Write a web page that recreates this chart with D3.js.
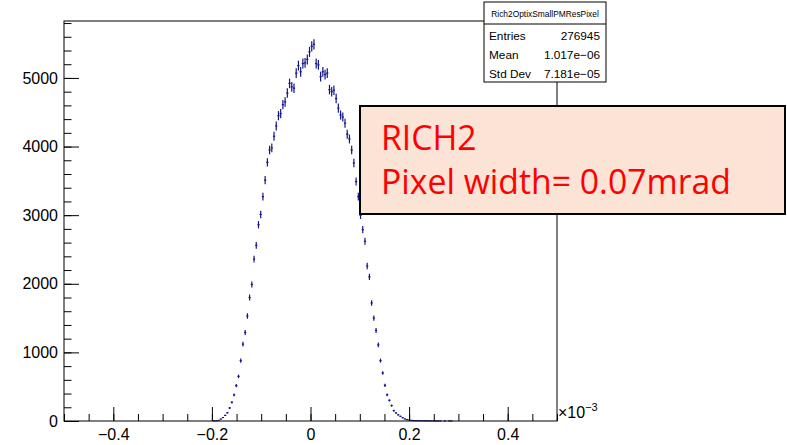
<!DOCTYPE html>
<html>
<head>
<meta charset="utf-8">
<script src="https://cdn.jsdelivr.net/npm/d3@7"></script>
<style>
  html, body { margin: 0; padding: 0; background: #fff; }
  svg { display: block; }
</style>
</head>
<body>
<svg id="chart" width="787" height="445"></svg>
<script>
// ---------------- data ----------------
const histTitle = "Rich2OptixSmallPMResPixel";
const statLabels = ["Entries", "Mean", "Std Dev"];
const statValues = ["276945", "1.017e\u221206", "7.181e\u221205"];
const annotationLines = ["RICH2", "Pixel width= 0.07mrad"];

// histogram binning (x in units of 1e-3)
const xRange = [-0.5, 0.5];
const yMax = 5830;
const binWidth = 0.0045;
const firstBinCenter = -0.2;
const counts = [
  0, 2, 3, 8, 28, 50, 82, 120, 190, 273,
  380, 515, 650, 880, 1120, 1290, 1530, 1800, 1990, 2360,
  2560, 2860, 3010, 3270, 3510, 3770, 3950, 3980, 4150, 4300,
  4450, 4480, 4610, 4650, 4780, 4920, 4870, 4850, 5070, 5180,
  5090, 5210, 5220, 5270, 5380, 5460, 5490, 5210, 5190, 5020,
  5090, 5050, 5070, 4830, 4800, 4820, 4700, 4560, 4460, 4430,
  4340, 4180, 4110, 3950, 3760, 3490, 3270, 3000, 2790, 2620,
  2260, 2100, 1720, 1500, 1320, 1110, 880, 700, 520, 380,
  300, 225, 150, 118, 90, 68, 48, 30, 20, 15,
  9, 6, 5, 4, 3, 4, 2, 3, 2, 1,
  2, 1, 1, 1, 0, 1, 0, 1, 1
];
const xMajorTicks = [-0.4, -0.2, 0, 0.2, 0.4];
const xMinorTicks = d3.range(-0.5, 0.5001, 0.05);
const yMajorTicks = [0, 1000, 2000, 3000, 4000, 5000];
const yMinorTicks = d3.range(0, 5801, 200);

// ---------------- layout ----------------
const svg = d3.select("#chart");
const rootFont = "'Liberation Sans', Arial, Helvetica, sans-serif";
const frame = { left: 64, right: 557, top: 21, bottom: 421 };

const x = d3.scaleLinear().domain(xRange).range([frame.left, frame.right]);
const y = d3.scaleLinear().domain([0, yMax]).range([frame.bottom, frame.top]);

const bins = counts.map((c, i) => ({ center: firstBinCenter + i * binWidth, count: c }))
  .filter(d => d.count > 0);

// data (error bars)
const dataColor = "#14148c";
const g = svg.append("g");
g.selectAll("line.v").data(bins).join("line")
  .attr("class", "v")
  .attr("x1", d => x(d.center)).attr("x2", d => x(d.center))
  .attr("y1", d => y(Math.max(0, d.count - Math.sqrt(d.count))))
  .attr("y2", d => y(d.count + Math.sqrt(d.count)))
  .attr("stroke", dataColor).attr("stroke-width", 1.2);
g.selectAll("line.h").data(bins).join("line")
  .attr("class", "h")
  .attr("x1", d => x(d.center - binWidth / 2)).attr("x2", d => x(d.center + binWidth / 2))
  .attr("y1", d => y(d.count)).attr("y2", d => y(d.count))
  .attr("stroke", dataColor).attr("stroke-width", 1.2);

// frame
svg.append("rect")
  .attr("x", frame.left).attr("y", frame.top)
  .attr("width", frame.right - frame.left).attr("height", frame.bottom - frame.top)
  .attr("fill", "none").attr("stroke", "#000").attr("stroke-width", 1);

// axes
const xAxisMajor = d3.axisBottom(x).tickValues(xMajorTicks)
  .tickSize(-14).tickPadding(8)
  .tickFormat(d => Math.abs(d) < 1e-9 ? "0" : d3.format(".1f")(d));
const xAxisMinor = d3.axisBottom(x).tickValues(xMinorTicks).tickSize(-7).tickFormat("");
const yAxisMajor = d3.axisLeft(y).tickValues(yMajorTicks).tickSize(-15).tickPadding(6)
  .tickFormat(d3.format("d"));
const yAxisMinor = d3.axisLeft(y).tickValues(yMinorTicks).tickSize(-7.5).tickFormat("");

function styleAxis(sel) {
  sel.select(".domain").remove();
  sel.attr("font-size", null).attr("font-family", null);
  sel.selectAll("line").attr("stroke", "#000").attr("stroke-width", 1);
  sel.selectAll("text").attr("fill", "#000")
    .style("font-size", "16px").style("font-family", rootFont);
}
svg.append("g").attr("transform", `translate(0,${frame.bottom})`).call(xAxisMinor).call(styleAxis);
svg.append("g").attr("transform", `translate(0,${frame.bottom})`).call(xAxisMajor).call(styleAxis);
svg.append("g").attr("transform", `translate(${frame.left},0)`).call(yAxisMinor).call(styleAxis);
svg.append("g").attr("transform", `translate(${frame.left},0)`).call(yAxisMajor).call(styleAxis);

// x10^-3
const expo = svg.append("text").attr("x", frame.right + 1).attr("y", frame.bottom - 3)
  .style("font-size", "16px").style("font-family", rootFont).attr("fill", "#000");
expo.append("tspan").text("\u00d710");
expo.append("tspan").attr("dy", -7).style("font-size", "11px").text("\u22123");

// stats box
const sb = { x: 484, y: 2, w: 122, h: 80, titleH: 22 };
const st = svg.append("g").style("font-family", rootFont);
st.append("rect").attr("x", sb.x).attr("y", sb.y).attr("width", sb.w).attr("height", sb.h)
  .attr("fill", "#fff").attr("stroke", "#000").attr("stroke-width", 1);
st.append("line").attr("x1", sb.x).attr("x2", sb.x + sb.w)
  .attr("y1", sb.y + sb.titleH).attr("y2", sb.y + sb.titleH)
  .attr("stroke", "#000").attr("stroke-width", 1);
st.append("text").attr("x", sb.x + sb.w / 2).attr("y", sb.y + 15)
  .attr("text-anchor", "middle").style("font-size", "8.4px").attr("fill", "#000").text(histTitle);
const rowY = [40, 59, 78];
statLabels.forEach((lab, i) => {
  st.append("text").attr("x", sb.x + 5).attr("y", rowY[i])
    .style("font-size", "11.8px").attr("fill", "#000").text(lab);
  st.append("text").attr("x", sb.x + sb.w - 6).attr("y", rowY[i])
    .attr("text-anchor", "end").style("font-size", "11.8px").attr("fill", "#000").text(statValues[i]);
});

// annotation box
const ab = { x: 360, y: 106, w: 425, h: 108 };
const an = svg.append("g");
an.append("rect").attr("x", ab.x).attr("y", ab.y).attr("width", ab.w).attr("height", ab.h)
  .attr("fill", "#fbe3d6").attr("stroke", "#000").attr("stroke-width", 2);
const annY = [150, 194];
const annTexts = annotationLines.map((t, i) =>
  an.append("text").attr("x", 381).attr("y", annY[i])
    .style("font-family", "'Open Sans', 'Noto Sans', sans-serif")
    .style("font-size", "30px").attr("fill", "#ff0000").text(t));
// fit the second line to the reference width (~350px)
const len = annTexts[1].node().getComputedTextLength();
const fs = 30 * 350 / len;
annTexts.forEach(t => t.style("font-size", fs + "px"));
</script>
</body>
</html>
